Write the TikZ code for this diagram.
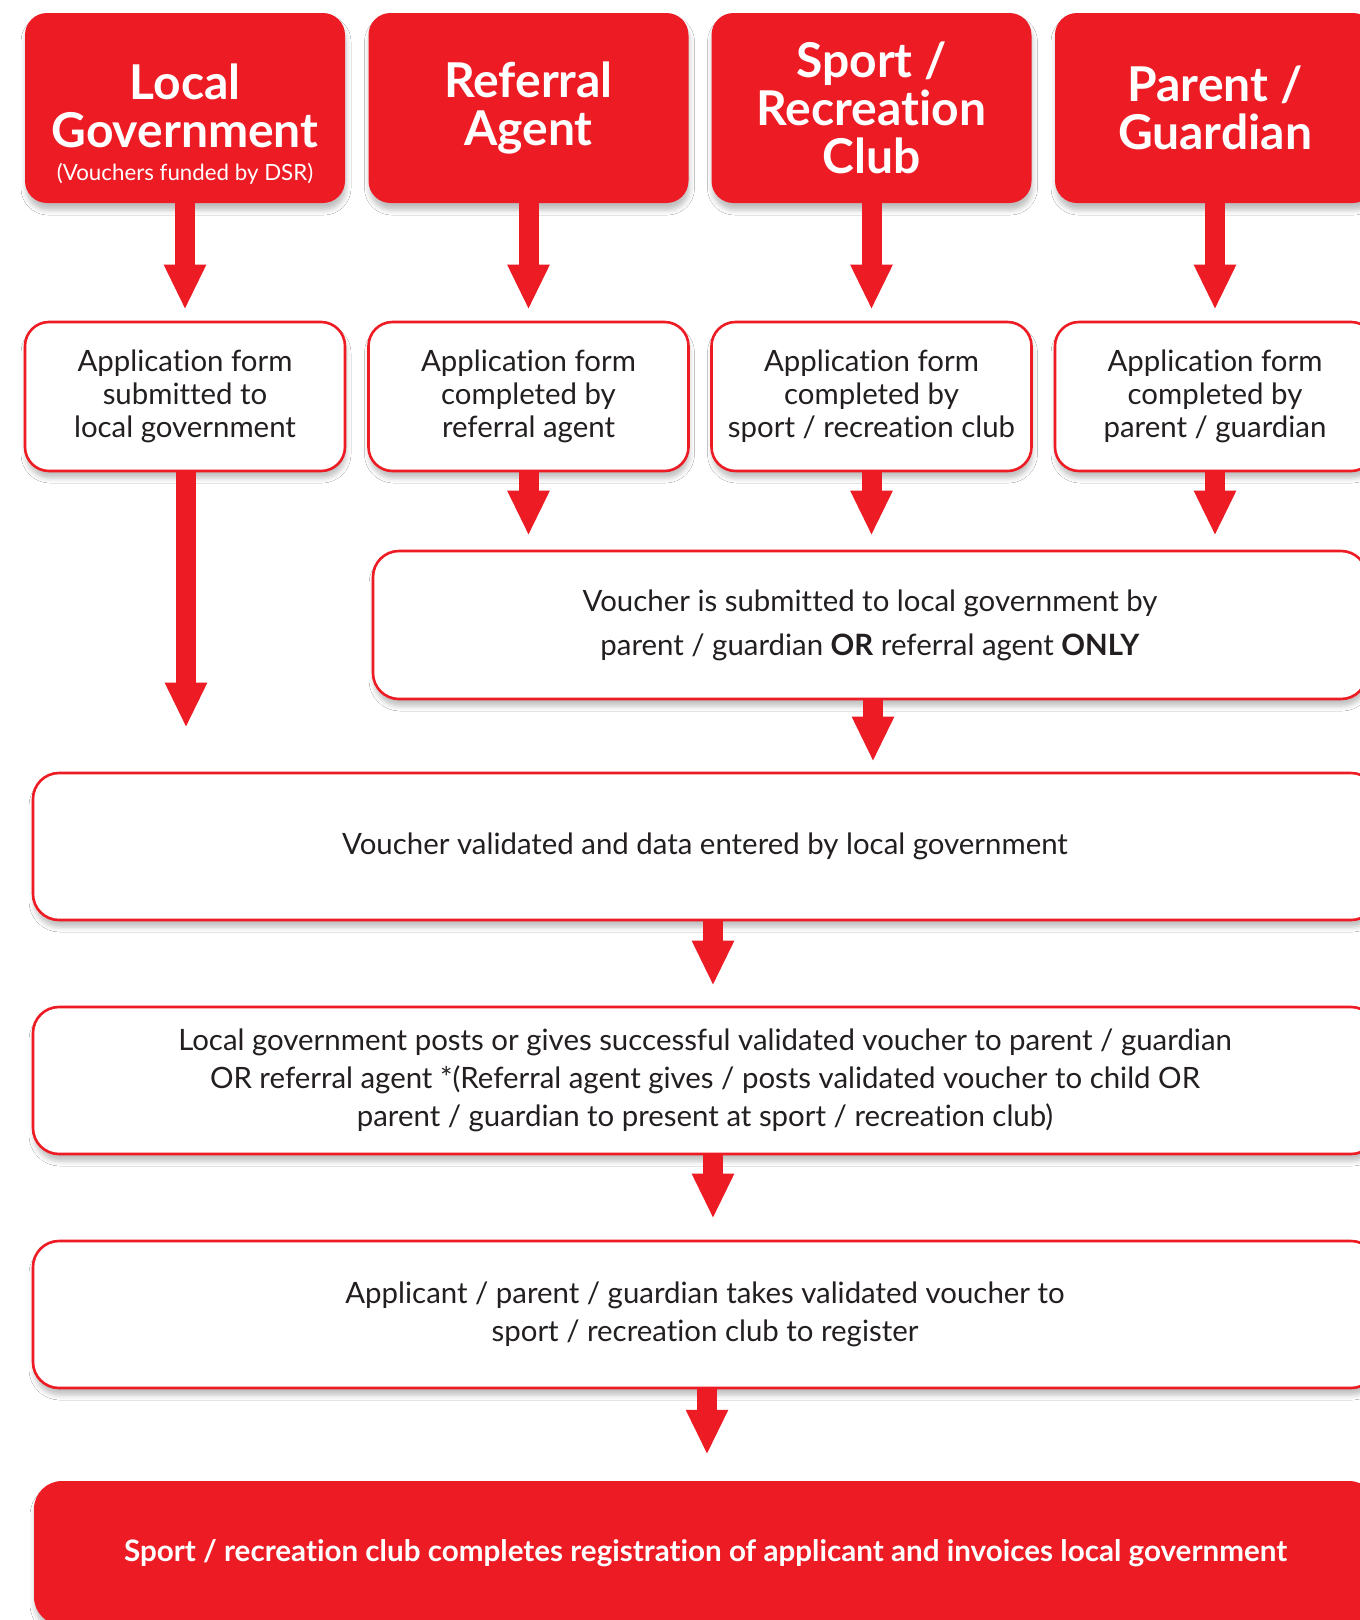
\documentclass[tikz,border=0pt]{standalone}
\usepackage{fontspec}
\setmainfont{Lato}[Ligatures=NoCommon]
\usetikzlibrary{arrows.meta,shadows.blur}
\definecolor{dsrred}{RGB}{237,28,36}
\definecolor{txt}{RGB}{35,31,32}
\begin{document}
\begin{tikzpicture}[x=1pt,y=-1pt,
  shadowed/.style={blur shadow={shadow xshift=1pt,shadow yshift=-7pt,shadow blur radius=5pt,shadow opacity=25}},
  headbox/.style={shadowed,fill=dsrred,draw=none,rounded corners=22pt,minimum width=320pt,minimum height=190pt,inner sep=0pt,text=white,align=center,font=\bfseries\fontsize{48}{48}\selectfont},
  formbox/.style={shadowed,fill=white,draw=dsrred,line width=2.6pt,rounded corners=24pt,minimum width=320pt,minimum height=149pt,inner sep=0pt,text=txt,align=center,font=\fontsize{29.4}{33}\selectfont},
  widebox/.style={shadowed,fill=white,draw=dsrred,line width=2.6pt,rounded corners=26pt,inner sep=0pt,text=txt,align=center},
  flowarrow/.style={draw=dsrred,line width=20pt,-{Triangle[width=39pt,length=45pt]}}
]
\fill[white] (0,0) rectangle (1360,1620);
\useasboundingbox (0,0) rectangle (1360,1620);
\clip (0,0) rectangle (1360,1620);

% top row
\node[headbox] (h1) at (185,108) {};
\node[text=white,align=center,font=\bfseries\fontsize{48}{48}\selectfont,inner sep=0pt] (h1t) at (185,106) {Local\\Government};
\node[text=white,font=\fontsize{22.3}{24}\selectfont,inner sep=0pt] (h1s) at (185,174) {(Vouchers funded by DSR)};
\node[headbox] (h2) at (528.5,108) {Referral\\Agent};
\node[headbox] (h3) at (871.5,108) {Sport /\\Recreation\\Club};
\node[headbox] (h4) at (1215,108) {Parent /\\Guardian};

% second row
\node[formbox] (f1) at (185,396.5) {Application form\\submitted to\\local government};
\node[formbox] (f2) at (528.5,396.5) {Application form\\completed by\\referral agent};
\node[formbox] (f3) at (871.5,396.5) {Application form\\completed by\\sport / recreation club};
\node[formbox] (f4) at (1215,396.5) {Application form\\completed by\\parent / guardian};

% voucher
\node[widebox,minimum width=994pt,minimum height=148pt,font=\fontsize{29.4}{44}\selectfont] (v) at (870,625)
  {Voucher is submitted to local government by\\parent / guardian \textbf{OR} referral agent \textbf{ONLY}};

\node[widebox,minimum width=1344pt,minimum height=147pt,font=\fontsize{29.4}{38}\selectfont] (val) at (705,846.5)
  {Voucher validated and data entered by local government};

\node[widebox,minimum width=1344pt,minimum height=147pt,font=\fontsize{29.4}{38}\selectfont] (post) at (705,1080.5)
  {Local government posts or gives successful validated voucher to parent / guardian\\OR referral agent *(Referral agent gives / posts validated voucher to child OR\\parent / guardian to present at sport / recreation club)};

\node[widebox,minimum width=1344pt,minimum height=147pt,font=\fontsize{29.4}{38}\selectfont] (app) at (705,1314.5)
  {Applicant / parent / guardian takes validated voucher to\\sport / recreation club to register};

\node[shadowed,fill=dsrred,draw=none,rounded corners=28pt,minimum width=1343pt,minimum height=144pt,inner sep=0pt,text=white,font=\bfseries\fontsize{29.6}{30}\selectfont] (fin) at (705.5,1553)
  {Sport / recreation club completes registration of applicant and invoices local government};

% arrows
\foreach \a/\b in {h1/f1,h2/f2,h3/f3,h4/f4}
  \draw[flowarrow,shorten >=11pt] (\a.south) -- (\b.north);
\foreach \a in {f2,f3,f4}
  \draw[flowarrow,shorten >=14pt] (\a.south) -- (\a.south |- v.north);
\draw[flowarrow,shorten >=44pt] ([xshift=1pt]f1.south) -- ([xshift=1pt]f1.south |- val.north);
\draw[flowarrow,shorten >=10pt] ([xshift=3pt]v.south) -- ([xshift=3pt]v.south |- val.north);
\draw[flowarrow,shorten >=20pt] ([xshift=8pt]val.south) -- ([xshift=8pt]val.south |- post.north);
\draw[flowarrow,shorten >=21pt] ([xshift=8pt]post.south) -- ([xshift=8pt]post.south |- app.north);
\draw[flowarrow,shorten >=26pt] ([xshift=2pt]app.south) -- ([xshift=2pt]app.south |- fin.north);
\end{tikzpicture}
\end{document}
